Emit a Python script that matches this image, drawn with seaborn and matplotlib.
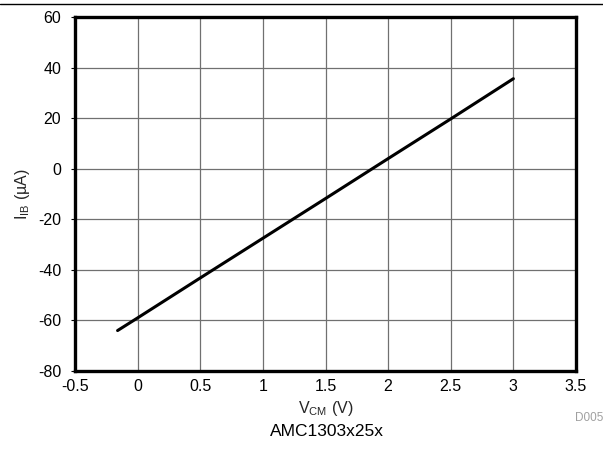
import matplotlib
matplotlib.use("Agg")
import matplotlib.pyplot as plt
import seaborn as sns
import pandas as pd
from matplotlib.lines import Line2D

vcm = [-0.16, 0.0, 0.5, 1.0, 1.5, 2.0, 2.5, 3.0]
iib = [-64.0, -59.0, -43.2, -27.5, -11.8, 4.0, 19.7, 35.6]
xticks = [-0.5, 0, 0.5, 1, 1.5, 2, 2.5, 3, 3.5]
xticklabels = ["-0.5", "0", "0.5", "1", "1.5", "2", "2.5", "3", "3.5"]
yticks = [-80, -60, -40, -20, 0, 20, 40, 60]
yticklabels = ["-80", "-60", "-40", "-20", "0", "20", "40", "60"]

sns.set_style("white")
plt.rcParams['font.family'] = ['Liberation Sans', 'DejaVu Sans']
plt.rcParams['mathtext.fontset'] = 'custom'
plt.rcParams['mathtext.rm'] = 'Liberation Sans'
plt.rcParams['axes.unicode_minus'] = False

fig = plt.figure(figsize=(6.03, 4.57), dpi=100)
ax = fig.add_axes([75/603, 1-371/457, (576-75)/603, (371-17)/457])

df = pd.DataFrame({"VCM": vcm, "IIB": iib})
sns.lineplot(data=df, x="VCM", y="IIB", ax=ax, color="black", linewidth=2.2)

ax.set_xlim(-0.5, 3.5)
ax.set_ylim(-80, 60)
ax.set_xticks(xticks)
ax.set_xticklabels(xticklabels)
ax.set_yticks(yticks)
ax.set_yticklabels(yticklabels)
ax.grid(True, color="#707070", linewidth=0.9)
ax.set_axisbelow(True)
for s in ax.spines.values():
    s.set_linewidth(2.4)
    s.set_color("black")
    s.set_visible(True)
ax.tick_params(axis="y", direction="out", length=3, width=0.8, labelsize=11.5, colors="black", pad=7)
ax.tick_params(axis="x", direction="out", length=0, labelsize=11.5, colors="black", pad=6)
ax.tick_params(bottom=True, left=True)

ax.set_xlabel(r"V$_{\mathregular{CM}}$ (V)", fontsize=11.5, labelpad=3)
ax.set_ylabel(r"I$_{\mathregular{IB}}$ (µA)", fontsize=11.5, labelpad=4)

fig.add_artist(Line2D([0, 1], [1-4/457, 1-4/457], color="black", linewidth=1, transform=fig.transFigure))
fig.text(603/603, 1-418/457, "D005", fontsize=8.5, color="#a0a0a0", ha="right", va="center")
fig.text(327/603, 1-432/457, "AMC1303x25x", fontsize=12.5, color="black", ha="center", va="center")

fig.savefig("out.png", dpi=100)
